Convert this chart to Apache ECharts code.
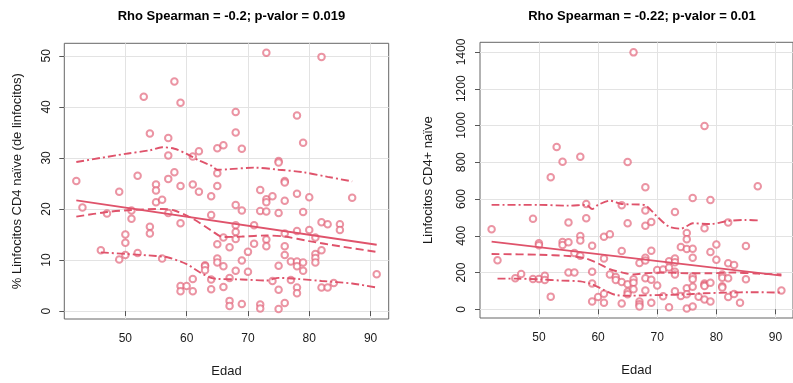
<!DOCTYPE html>
<html>
<head>
<meta charset="utf-8">
<script src="https://cdn.jsdelivr.net/npm/echarts@6/dist/echarts.min.js"></script>
<style>html,body{margin:0;padding:0;background:#fff}#c{width:793px;height:383px}</style>
</head>
<body>
<div id="c"></div>
<script>
// ---- Left panel: % Linfocitos CD4 naive vs Edad ----
var leftAge = [42,43,46,47,49,49,50,50,50,51,51,52,52,53,54,54,54,55,55,55,56,56,57,57,57,57,58,58,59,59,59,59,59,60,61,61,61,61,62,62,63,63,63,64,64,64,64,65,65,65,65,65,65,66,66,66,66,67,67,67,67,68,68,68,68,68,68,68,69,69,69,69,70,70,71,71,72,72,72,72,73,73,73,73,73,73,74,74,75,75,75,75,75,75,76,76,76,76,76,76,76,77,77,78,78,78,78,78,78,78,79,79,79,79,80,80,81,81,81,81,82,82,82,82,83,83,84,85,85,87,91];
var leftPct = [25.5,20.3,11.9,19.1,23.4,10.1,15.0,13.4,11.0,19.7,18.1,26.5,11.4,42.0,34.8,16.5,15.2,24.8,23.6,21.3,21.8,10.3,33.9,30.5,25.9,19.2,45.0,27.2,40.8,24.5,17.2,4.9,3.9,4.9,30.3,24.8,6.3,3.9,31.3,23.4,9.0,8.8,8.0,22.5,18.8,6.2,4.3,31.9,27.0,24.5,13.1,10.3,9.5,32.5,14.4,8.8,4.7,12.5,6.5,2.0,1.0,39.0,35.0,20.8,16.8,15.5,14.1,7.9,31.8,19.7,9.9,1.4,11.6,7.7,16.8,13.2,23.7,19.6,1.3,0.5,50.6,21.9,21.3,19.5,14.0,12.7,22.5,5.9,29.4,29.1,19.2,8.9,4.2,0.4,25.5,25.2,21.6,15.2,12.7,11.0,1.6,9.7,6.1,38.3,23.0,15.7,9.7,8.8,4.6,3.5,33.0,19.4,9.5,7.9,22.3,15.9,14.4,11.2,10.4,9.5,49.8,17.4,11.9,4.6,17.0,4.6,5.5,17.0,15.9,22.2,7.2];
var leftFitX = [42, 91];
var leftFitY = [21.7, 13.0];
var leftMedX = [42,47,51,56,58,61,64,66,69,73,76,80,85,91];
var leftMedY = [18.5,19.4,19.8,20.0,19.7,18.1,15.8,14.5,14.6,14.8,14.6,13.7,12.7,11.6];
var leftUpX = [42,50,54,56,58,60,62,64,65,67,71,75,79,83,87];
var leftUpY = [29.2,30.8,31.5,32.1,31.8,30.8,29.5,28.5,27.7,27.8,28.1,27.7,27.2,26.3,25.4];
var leftLoX = [46,50,55,57,60,62,64,65,69,73,75,78,82,87,91];
var leftLoY = [11.5,11.2,10.8,10.5,9.2,7.7,6.5,6.3,6.2,6.0,6.5,6.3,5.9,5.4,4.6];
var leftTicksX = [50,60,70,80,90];
var leftTicksY = [0,10,20,30,40,50];

// ---- Right panel: Linfocitos CD4+ naive vs Edad ----
var rightAge = [42,43,46,47,49,49,50,50,50,51,51,52,52,53,54,54,54,55,55,55,56,56,57,57,57,57,58,58,59,59,59,59,60,61,61,61,61,62,62,63,63,64,64,64,64,65,65,65,65,65,66,66,66,66,67,67,67,67,68,68,68,68,68,68,68,69,69,69,69,70,70,71,71,72,72,72,73,73,73,73,73,73,74,74,75,75,75,75,75,75,76,76,76,76,76,76,76,77,78,78,78,78,78,78,79,79,79,79,80,80,81,81,81,81,82,82,82,82,83,83,84,85,85,87,91];
var rightCount = [435,267,169,192,493,165,359,348,165,183,160,718,69,883,803,366,350,473,365,200,306,200,830,399,374,292,573,495,346,205,140,42,67,395,276,85,36,408,189,176,160,566,317,149,31,802,468,136,96,82,1398,163,145,109,252,42,27,15,664,537,455,281,265,169,102,475,319,161,36,214,129,216,71,261,227,11,530,277,256,205,190,98,339,73,415,381,328,114,82,5,606,330,281,178,163,123,15,69,997,441,141,132,127,54,595,312,145,42,352,270,190,172,125,118,473,250,169,67,241,83,36,345,163,669,102];
var rightFitX = [42, 91];
var rightFitY = [368, 183];
var rightMedX = [42,50,55,58,60,62,64,66,68,71,75,79,83,87,91];
var rightMedY = [301,297,290,276,250,218,201,190,196,200,196,196,200,194,190];
var rightUpX = [42,50,55,58,59,60,62,64,67,68,70,72,74,75,76,79,82,85,87];
var rightUpY = [568,568,564,568,546,568,591,573,570,566,504,450,439,453,468,464,481,486,484];
var rightLoX = [43,46,50,54,57,59,61,63,65,68,71,74,78,82,86,91];
var rightLoY = [167,167,163,156,152,136,105,78,74,76,78,80,87,91,93,91];
var rightTicksX = [50,60,70,80,90];
var rightTicksY = [0,200,400,600,800,1000,1200,1400];

var titles = ['Rho Spearman = -0.2; p-valor = 0.019', 'Rho Spearman = -0.22; p-valor = 0.01'];
var xName = 'Edad';
var yNames = ['% Linfocitos CD4 naïve (de linfocitos)', 'Linfocitos CD4+ naïve'];

function zip(a, b) { return a.map(function (v, i) { return [v, b[i]]; }); }

var RED = '#DF536B';
var PT = 'rgba(223,83,107,0.62)';
var FONT = '"Liberation Sans", Arial, sans-serif';
var TXT = '#1a1a1a';

function plain(v) { return String(v); }

function xAxisCfg(idx, ticks) {
  return {
    type: 'value', gridIndex: idx, min: 40.04, max: 92.96,
    name: xName, nameLocation: 'middle', nameGap: 46,
    nameTextStyle: { fontFamily: FONT, fontSize: 13, color: TXT },
    axisLine: { show: false },
    axisTick: { show: true, inside: false, length: 5, customValues: ticks, lineStyle: { color: '#555' } },
    axisLabel: { customValues: ticks, formatter: plain, fontFamily: FONT, fontSize: 12, color: TXT, margin: 14 },
    splitLine: { show: true, lineStyle: { color: '#e3e3e3', width: 1 } }
  };
}
function yAxisCfg(idx, ticks, min, max, gap) {
  return {
    type: 'value', gridIndex: idx, min: min, max: max,
    name: yNames[idx], nameLocation: 'middle', nameGap: gap,
    nameTextStyle: { fontFamily: FONT, fontSize: 13, color: TXT },
    axisLine: { show: false },
    axisTick: { show: true, inside: false, length: 5, customValues: ticks, lineStyle: { color: '#555' } },
    axisLabel: { customValues: ticks, formatter: plain, rotate: 90, fontFamily: FONT, fontSize: 12, color: TXT, margin: 12 },
    splitLine: { show: true, lineStyle: { color: '#e3e3e3', width: 1 } }
  };
}
function lineSeries(idx, xs, ys, type) {
  return {
    type: 'line', xAxisIndex: idx, yAxisIndex: idx, data: zip(xs, ys),
    smooth: type === 'solid' ? false : 0.3, showSymbol: false, symbol: 'none', silent: true,
    lineStyle: { color: RED, width: 1.9, type: type === 'solid' ? 'solid' : (type === 'dash' ? [8, 4] : [8, 3, 2, 3]) },
    z: 3
  };
}
function scatterSeries(idx, xs, ys) {
  return {
    type: 'scatter', xAxisIndex: idx, yAxisIndex: idx, data: zip(xs, ys),
    symbol: 'emptyCircle', symbolSize: 6.5,
    itemStyle: { color: PT, borderWidth: 1, opacity: 1 }, z: 2
  };
}

var chart = echarts.init(document.getElementById('c'), null, { renderer: 'canvas' });
chart.setOption({
  animation: false,
  backgroundColor: '#fff',
  title: [
    { text: titles[0], left: 226.5, top: 5, textAlign: 'center', textStyle: { fontFamily: FONT, fontSize: 13, fontWeight: 'bold', color: '#000' } },
    { text: titles[1], left: 637, top: 5, textAlign: 'center', textStyle: { fontFamily: FONT, fontSize: 13, fontWeight: 'bold', color: '#000' } }
  ],
  grid: [
    { left: 64.3, top: 43.3, width: 324.4, height: 279, show: true, borderColor: '#666', borderWidth: 1, backgroundColor: 'transparent' },
    { left: 480, top: 42.3, width: 320.6, height: 275.7, show: true, borderColor: '#666', borderWidth: 1, backgroundColor: 'transparent' }
  ],
  xAxis: [xAxisCfg(0, leftTicksX), xAxisCfg(1, rightTicksX)],
  yAxis: [
    yAxisCfg(0, leftTicksY, -1.55, 52.46, 40),
    yAxisCfg(1, rightTicksY, -47.3, 1452.8, 45)
  ],
  series: [
    scatterSeries(0, leftAge, leftPct),
    lineSeries(0, leftFitX, leftFitY, 'solid'),
    lineSeries(0, leftMedX, leftMedY, 'dash'),
    lineSeries(0, leftUpX, leftUpY, 'dashdot'),
    lineSeries(0, leftLoX, leftLoY, 'dashdot'),
    scatterSeries(1, rightAge, rightCount),
    lineSeries(1, rightFitX, rightFitY, 'solid'),
    lineSeries(1, rightMedX, rightMedY, 'dash'),
    lineSeries(1, rightUpX, rightUpY, 'dashdot'),
    lineSeries(1, rightLoX, rightLoY, 'dashdot')
  ]
});
</script>
</body>
</html>
